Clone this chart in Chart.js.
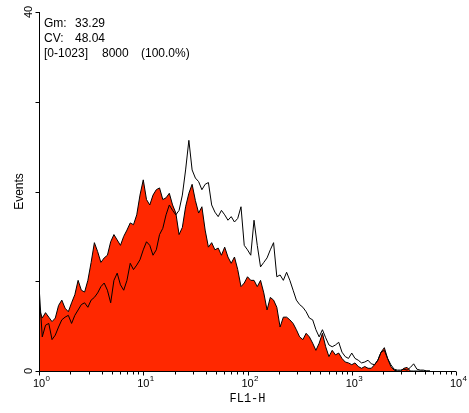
<!DOCTYPE html>
<html>
<head>
<meta charset="utf-8">
<script src="https://cdn.jsdelivr.net/npm/chart.js@4/dist/chart.umd.min.js"></script>
<style>
  html, body { margin: 0; padding: 0; background: #fff; }
  #wrap { width: 469px; height: 413px; }
</style>
</head>
<body>
<div id="wrap"><canvas id="histo" width="469" height="413"></canvas></div>
<script>
// FL1-H histogram, 1024 channels (256 per decade), sampled every 8 channels
var channelStep = 8;
var filledCounts = [
  7, 5.9, 6.5, 6, 5.5, 5.9, 7.3, 7.9, 7, 6.6,
  7.6, 8.5, 10.1, 9, 8.8, 10.1, 12.1, 14.3, 13.3, 12.1,
  12.6, 12.9, 14.4, 15.2, 14.6, 14, 15, 15.7, 16.5, 16.3,
  17.4, 19.6, 21.3, 19.1, 18.5, 19.6, 20.2, 20.4, 19.1, 19.3,
  19.8, 18.5, 17.6, 15.2, 16, 18.3, 19.8, 20.8, 19, 17.6,
  18.3, 15.7, 13.8, 14.3, 13.5, 13.7, 12.9, 13.8, 12.7, 12,
  12.7, 11.3, 9.4, 9.8, 10.5, 10.1, 10.1, 9.4, 10.1, 8.7,
  6.8, 8.2, 7.9, 7.1, 4.9, 6, 6, 5.7, 5.3, 4.6,
  3.8, 3.5, 4.2, 3.8, 3.1, 2.3, 3.1, 4.2, 2.7, 1.6,
  2.3, 1.8, 2, 1.4, 1, 0.9, 0.7, 0.9, 0.5, 0.3,
  0.5, 0.3, 0.3, 0.7, 1.2, 2.1, 2.6, 1.4, 0.5, 0.1,
  0, 0, 0.3, 0.4, 0, 0, 0, 0, 0, 0, 0
];
var overlayCounts = [
  9.5, 3.8, 5.1, 5.3, 3.5, 4, 4.9, 5.7, 6, 6.2,
  5.3, 6.2, 6.8, 7.4, 7.6, 7.1, 7.9, 8.2, 8.7, 9.4,
  9.8, 9, 7.6, 10.1, 10.9, 9.6, 9, 10.1, 12, 11.3,
  11.8, 12.4, 13.5, 14.4, 14, 12.9, 13.5, 15.2, 15.9, 17.4,
  18.5, 17.9, 17.4, 17.9, 19.6, 22.4, 25.7, 22.4, 21.5, 21.1,
  20.2, 20.8, 21, 18.5, 17.7, 17.2, 17.9, 17.4, 16.8, 17.2,
  16.6, 17, 18.3, 14, 13.5, 12.9, 16.8, 14, 11.6, 12.1,
  12.6, 13.5, 14.3, 10.5, 10.7, 10.1, 11, 10.1, 9, 7.9,
  7.4, 7.1, 6.6, 5.9, 5.7, 4.6, 3.8, 4.6, 3.7, 2.9,
  2.7, 2.9, 3.2, 2.1, 1.6, 1.4, 2, 1.4, 1.2, 0.9,
  1, 1.2, 0.8, 0.7, 1.2, 2.1, 2.3, 1.4, 0.7, 0.2,
  0.1, 0.1, 0.2, 0.1, 0.4, 0.8, 0.2, 0.1, 0.1, 0, 0
];
var decadeLabels = ["0", "1", "2", "3", "4"];   // exponents of 10
var yTickValues = [0, 10, 20, 30, 40];
var yLabelValues = [0, 40];
var statsRows = [
  [["Gm:", 5], ["33.29", 36]],
  [["CV:", 5], ["48.04", 36]],
  [["[0-1023]", 5], ["8000", 63], ["(100.0%)", 102]]
];

function toPoints(counts) {
  return counts.map(function (c, i) { return { x: i * channelStep, y: c }; });
}

var flowAxes = {
  id: "flowAxes",
  afterDatasetsDraw: function (chart) {
    var ctx = chart.ctx, a = chart.chartArea, xs = chart.scales.x, ys = chart.scales.y;
    var left = Math.round(a.left) + 0.5, bottom = Math.round(a.bottom) + 0.5;
    ctx.save();
    ctx.strokeStyle = "#000";
    ctx.lineWidth = 1;
    ctx.beginPath();
    ctx.moveTo(left, a.top);
    ctx.lineTo(left, bottom);
    ctx.lineTo(a.right, bottom);
    yTickValues.forEach(function (v) {
      var py = Math.round(ys.getPixelForValue(v)) + 0.5;
      ctx.moveTo(left - 4, py);
      ctx.lineTo(left, py);
    });
    decadeLabels.forEach(function (e, d) {
      var px = Math.round(xs.getPixelForValue(d * 256)) + 0.5;
      ctx.moveTo(px, bottom);
      ctx.lineTo(px, bottom + 4);
      if (d < decadeLabels.length - 1) {
        for (var k = 2; k < 10; k++) {
          var mx = Math.round(xs.getPixelForValue((d + Math.log10(k)) * 256)) + 0.5;
          ctx.moveTo(mx, bottom);
          ctx.lineTo(mx, bottom + 3);
        }
      }
    });
    ctx.stroke();

    ctx.fillStyle = "#000";
    // x tick labels: 10 with superscript exponent
    decadeLabels.forEach(function (e, d) {
      var px = xs.getPixelForValue(d * 256);
      ctx.font = "11px 'Liberation Sans', Arial, sans-serif";
      ctx.textAlign = "center";
      ctx.textBaseline = "alphabetic";
      ctx.fillText("10", px, bottom + 15);
      var w = ctx.measureText("10").width;
      ctx.font = "8px 'Liberation Sans', Arial, sans-serif";
      ctx.textAlign = "left";
      ctx.fillText(e, px + w / 2 + 0.5, bottom + 9);
    });
    // y tick labels, rotated
    ctx.font = "11px 'Liberation Sans', Arial, sans-serif";
    yLabelValues.forEach(function (v) {
      var py = ys.getPixelForValue(v);
      ctx.save();
      ctx.translate(a.left - 7, py);
      ctx.rotate(-Math.PI / 2);
      ctx.textAlign = "center";
      ctx.textBaseline = "alphabetic";
      ctx.fillText(String(v), 0, 0);
      ctx.restore();
    });
    // axis titles
    ctx.font = "12px 'Liberation Sans', Arial, sans-serif";
    ctx.save();
    ctx.translate(a.left - 16, (a.top + a.bottom) / 2);
    ctx.rotate(-Math.PI / 2);
    ctx.textAlign = "center";
    ctx.fillText("Events", 0, 0);
    ctx.restore();
    ctx.font = "12px 'Liberation Mono', 'Courier New', monospace";
    ctx.textAlign = "center";
    ctx.fillText("FL1-H", (a.left + a.right) / 2, bottom + 30);
    // statistics box
    ctx.font = "12px 'Liberation Sans', Arial, sans-serif";
    ctx.textAlign = "left";
    statsRows.forEach(function (row, r) {
      var ty = a.top + 14.5 + r * 15;
      row.forEach(function (cell) {
        ctx.fillText(cell[0], a.left + cell[1], ty);
      });
    });
    ctx.restore();
  }
};

new Chart(document.getElementById("histo"), {
  type: "line",
  data: {
    datasets: [
      {
        label: "overlay",
        data: toPoints(overlayCounts),
        borderColor: "#000",
        borderWidth: 1,
        fill: false,
        pointRadius: 0,
        tension: 0
      },
      {
        label: "sample",
        data: toPoints(filledCounts),
        borderColor: "#000",
        borderWidth: 1,
        backgroundColor: "#ff2800",
        fill: "origin",
        pointRadius: 0,
        tension: 0
      }
    ]
  },
  options: {
    responsive: false,
    animation: false,
    layout: { padding: { left: 39, right: 13, top: 12, bottom: 42 } },
    plugins: { legend: { display: false }, tooltip: { enabled: false } },
    scales: {
      x: { type: "linear", min: 0, max: 1024, display: false },
      y: { type: "linear", min: 0, max: 40, display: false }
    }
  },
  plugins: [flowAxes]
});
</script>
</body>
</html>
